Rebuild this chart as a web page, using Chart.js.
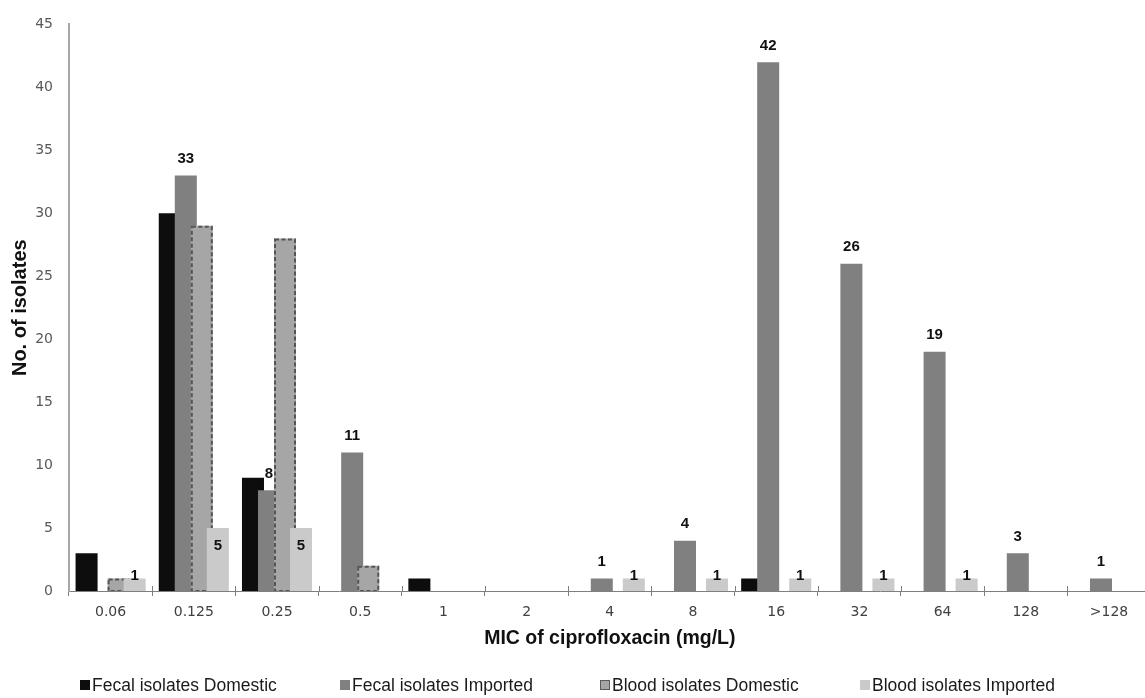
<!DOCTYPE html>
<html>
<head>
<meta charset="utf-8">
<title>MIC of ciprofloxacin</title>
<script src="https://cdn.jsdelivr.net/npm/chart.js@4.4.1/dist/chart.umd.min.js"></script>
<style>
  html, body { margin: 0; padding: 0; background: #ffffff; overflow: hidden; }
  #wrap { width: 1152px; height: 704px; }
</style>
</head>
<body>
<div id="wrap"><canvas id="micChart" width="1152" height="704"></canvas></div>
<script>
// MIC categories (mg/L) and isolate counts per group
const micLabels = ['0.06', '0.125', '0.25', '0.5', '1', '2', '4', '8', '16', '32', '64', '128', '>128'];
const fecalDomestic = [3, 30, 9, 0, 1, 0, 0, 0, 1, 0, 0, 0, 0];
const fecalImported = [0, 33, 8, 11, 0, 0, 1, 4, 42, 26, 19, 3, 1];
const bloodDomestic = [1, 29, 28, 2, 0, 0, 0, 0, 0, 0, 0, 0, 0];
const bloodImported = [1, 5, 5, 0, 0, 0, 1, 1, 1, 1, 1, 0, 0];
const seriesNames = ['Fecal isolates Domestic', 'Fecal isolates Imported', 'Blood isolates Domestic', 'Blood isolates Imported'];
const yRange = { min: 0, max: 45, step: 5 };

const FILLS = ['#0d0d0d', '#808080', '#a6a6a6', '#cacaca'];
const DASHED_SERIES = 2;          // blood domestic bars get a dashed outline
const LABELLED_SERIES = [1, 3];   // series whose bars carry value labels

function outlineDashed(ctx, el) {
  const p = el.getProps(['x', 'y', 'base', 'width'], true);
  if (Math.abs(p.base - p.y) < 0.5) return;
  ctx.save();
  ctx.strokeStyle = '#555555';
  ctx.lineWidth = 2;
  ctx.setLineDash([4, 2.5]);
  ctx.strokeRect(p.x - p.width / 2 + 1, p.y + 1, p.width - 2, p.base - p.y - 1);
  ctx.restore();
}

// Bars are painted in series order so each later series overlaps the earlier one,
// then the value labels go on top.
const seriesPainter = {
  id: 'seriesPainter',
  beforeDatasetsDraw(chart) {
    const ctx = chart.ctx;
    const area = chart.chartArea;
    const metas = chart.getSortedVisibleDatasetMetas().slice().sort((a, b) => a.index - b.index);
    ctx.save();
    ctx.beginPath();
    ctx.rect(area.left, 0, area.right - area.left, area.bottom);
    ctx.clip();
    metas.forEach(meta => {
      meta.controller.draw();
      if (meta.index === DASHED_SERIES) meta.data.forEach(el => outlineDashed(ctx, el));
    });
    ctx.restore();

    ctx.save();
    ctx.font = 'bold 15px "Liberation Sans", Arial, sans-serif';
    ctx.fillStyle = '#111111';
    ctx.textAlign = 'center';
    ctx.textBaseline = 'middle';
    metas.forEach(meta => {
      if (!LABELLED_SERIES.includes(meta.index)) return;
      const values = chart.data.datasets[meta.index].data;
      meta.data.forEach((el, i) => {
        const v = values[i];
        if (!v) return;
        const p = el.getProps(['x', 'y', 'base'], true);
        let ty;
        if (meta.index === 1) ty = p.y - 16.5;
        else ty = (p.base - p.y) > 40 ? p.y + 18 : p.y - 3;
        ctx.fillText(String(v), p.x, ty);
      });
    });
    ctx.restore();

    // short upward halves of the category tick marks (crossing the axis)
    const xs = chart.scales.x;
    const n = micLabels.length;
    const step = (xs.right - xs.left) / n;
    ctx.save();
    ctx.strokeStyle = '#7f7f7f';
    ctx.lineWidth = 1;
    ctx.beginPath();
    for (let k = 1; k <= n; k++) {
      const bx = Math.round(xs.left + k * step) + 0.5;
      ctx.moveTo(bx, area.bottom - 5);
      ctx.lineTo(bx, area.bottom);
    }
    ctx.stroke();
    ctx.restore();
    return false;
  }
};

// Legend row beneath the axis title, in equal-width columns.
const legendRow = {
  id: 'legendRow',
  afterDraw(chart) {
    const ctx = chart.ctx;
    const y = 685;
    const startX = 80;
    const colW = 260;
    ctx.save();
    ctx.font = '17.5px "Liberation Sans", Arial, sans-serif';
    ctx.textBaseline = 'middle';
    ctx.textAlign = 'left';
    chart.data.datasets.forEach((ds, i) => {
      const x = startX + i * colW;
      ctx.fillStyle = ds.backgroundColor;
      ctx.fillRect(x, y - 5, 10, 10);
      if (i === DASHED_SERIES) {
        ctx.strokeStyle = '#5a5a5a';
        ctx.lineWidth = 1;
        ctx.strokeRect(x + 0.5, y - 4.5, 9, 9);
      }
      ctx.fillStyle = '#1a1a1a';
      ctx.fillText(ds.label, x + 12, y + 1);
    });
    ctx.restore();
  }
};

const seriesValues = [fecalDomestic, fecalImported, bloodDomestic, bloodImported];

new Chart(document.getElementById('micChart'), {
  type: 'bar',
  data: {
    labels: micLabels,
    datasets: seriesValues.map((vals, i) => ({
      label: seriesNames[i],
      data: vals,
      backgroundColor: FILLS[i],
      borderWidth: 0,
      categoryPercentage: 0.77,
      barPercentage: 1.375
    }))
  },
  options: {
    responsive: false,
    animation: false,
    devicePixelRatio: 1,
    layout: { padding: { top: 19, right: 1.4, bottom: 54, left: 0 } },
    plugins: {
      legend: { display: false },
      tooltip: { enabled: false }
    },
    scales: {
      x: {
        offset: true,
        grid: { offset: true, drawOnChartArea: false, drawTicks: true, tickLength: 5, color: '#7f7f7f', lineWidth: 1 },
        border: { display: true, color: '#7f7f7f', width: 1 },
        ticks: {
          color: '#404040',
          padding: 8,
          maxRotation: 0,
          autoSkip: false,
          font: { family: '"DejaVu Sans", sans-serif', size: 14 }
        },
        title: {
          display: true,
          text: 'MIC of ciprofloxacin (mg/L)',
          color: '#111111',
          padding: { top: 0, bottom: 0 },
          font: { family: '"Liberation Sans", Arial, sans-serif', size: 19.5, weight: 'bold' }
        },
        afterFit(scale) { scale.height = 59; }
      },
      y: {
        min: yRange.min,
        max: yRange.max,
        grid: { display: false, drawTicks: false },
        border: { display: true, color: '#a6a6a6', width: 2 },
        ticks: {
          stepSize: yRange.step,
          color: '#595959',
          padding: 16,
          font: { family: '"DejaVu Sans", sans-serif', size: 14 }
        },
        title: {
          display: true,
          text: 'No. of isolates',
          color: '#111111',
          padding: { top: 8, bottom: 0 },
          font: { family: '"Liberation Sans", Arial, sans-serif', size: 20, weight: 'bold' }
        },
        afterFit(scale) { scale.width = 69; }
      }
    }
  },
  plugins: [seriesPainter, legendRow]
});
</script>
</body>
</html>
